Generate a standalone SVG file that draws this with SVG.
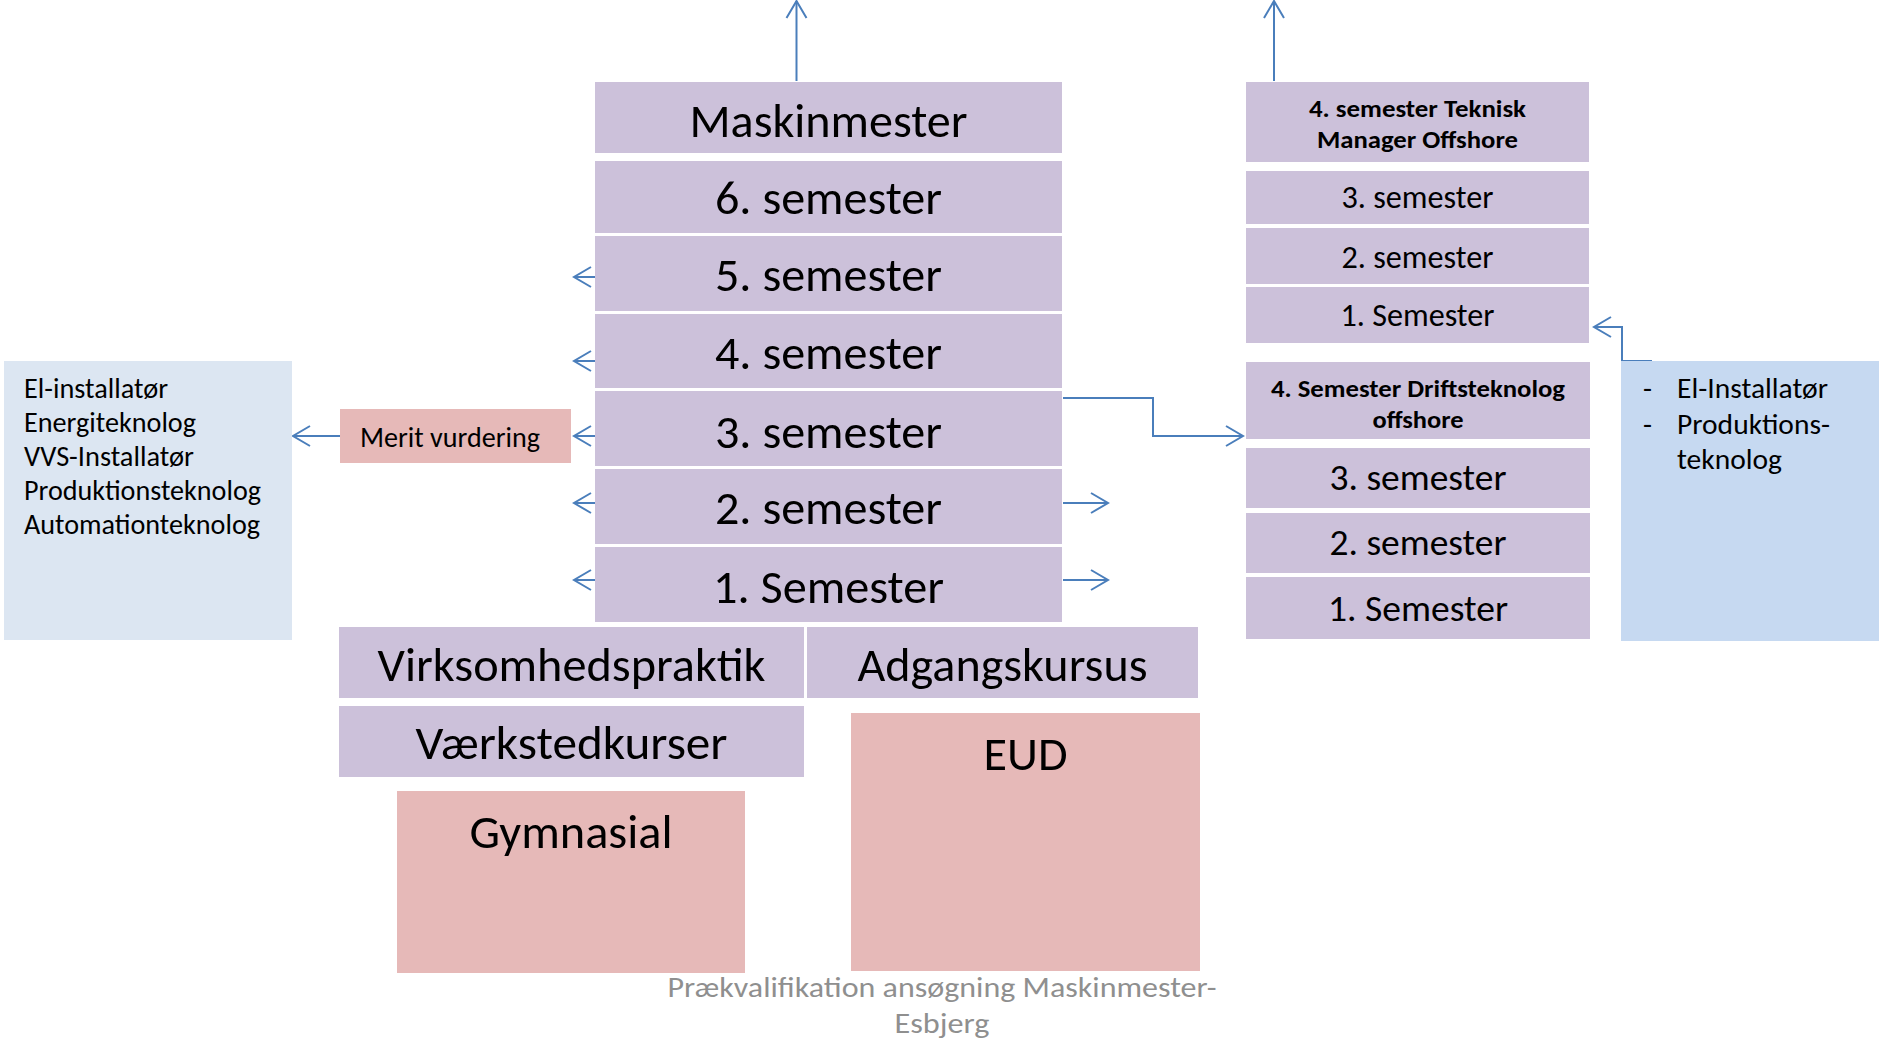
<svg xmlns="http://www.w3.org/2000/svg" width="1879" height="1041" viewBox="0 0 1879 1041">
<defs>
<style>
text{font-family:Carlito,Calibri,"Liberation Sans",Arial,sans-serif;fill:#000}
.lav{fill:#CCC1DA}
.pink{fill:#E6B9B8}
.lb1{fill:#DCE6F2}
.lb2{fill:#C6D9F1}
.t48{font-size:48px;text-anchor:middle}
.t37{font-size:37.3px;text-anchor:middle}
.t32{font-size:32px;text-anchor:middle}
.b24{font-size:24px;font-weight:bold;text-anchor:middle}
.t28{font-size:28px}
.t29{font-size:29.3px}
.foot{font-size:29px;text-anchor:middle;fill:#8F8F8F}
.con{fill:none;stroke:#4A7EBB;stroke-width:2}
</style>
<marker id="arr" markerUnits="userSpaceOnUse" markerWidth="24" markerHeight="24" viewBox="-20 -12 24 24" refX="0" refY="0" orient="auto">
<path d="M-17,-10 L0,0 L-17,10" fill="none" stroke="#4A7EBB" stroke-width="2"/>
</marker>
</defs>

<g id="connectors">
<line class="con" x1="796.5" y1="81" x2="796.5" y2="1" marker-end="url(#arr)"/>
<line class="con" x1="1274" y1="81" x2="1274" y2="1" marker-end="url(#arr)"/>
<line class="con" x1="595" y1="277" x2="574" y2="277" marker-end="url(#arr)"/>
<line class="con" x1="595" y1="361" x2="574" y2="361" marker-end="url(#arr)"/>
<line class="con" x1="595" y1="436" x2="574" y2="436" marker-end="url(#arr)"/>
<line class="con" x1="595" y1="503" x2="574" y2="503" marker-end="url(#arr)"/>
<line class="con" x1="595" y1="580" x2="574" y2="580" marker-end="url(#arr)"/>
<line class="con" x1="340" y1="436" x2="293" y2="436" marker-end="url(#arr)"/>
<line class="con" x1="1063" y1="503" x2="1108" y2="503" marker-end="url(#arr)"/>
<line class="con" x1="1063" y1="580" x2="1108" y2="580" marker-end="url(#arr)"/>
<path class="con" d="M1063,398 H1153 V436 H1243" marker-end="url(#arr)"/>
<path class="con" d="M1652,361 H1622 V327 H1594" marker-end="url(#arr)"/>
</g>

<g id="maskinmester"><rect class="lav" x="595" y="82" width="467" height="71"/><text class="t48" x="828.5" y="136.5" textLength="278" lengthAdjust="spacingAndGlyphs">Maskinmester</text></g>
<g id="m-sem6"><rect class="lav" x="595" y="161" width="467" height="72"/><text class="t48" x="828.5" y="213.5" textLength="227" lengthAdjust="spacingAndGlyphs">6. semester</text></g>
<g id="m-sem5"><rect class="lav" x="595" y="236" width="467" height="75"/><text class="t48" x="828.5" y="290.5" textLength="227" lengthAdjust="spacingAndGlyphs">5. semester</text></g>
<g id="m-sem4"><rect class="lav" x="595" y="314" width="467" height="74"/><text class="t48" x="828.5" y="368.5" textLength="227" lengthAdjust="spacingAndGlyphs">4. semester</text></g>
<g id="m-sem3"><rect class="lav" x="595" y="391" width="467" height="75"/><text class="t48" x="828.5" y="447.5" textLength="227" lengthAdjust="spacingAndGlyphs">3. semester</text></g>
<g id="m-sem2"><rect class="lav" x="595" y="469" width="467" height="75"/><text class="t48" x="828.5" y="523.5" textLength="227" lengthAdjust="spacingAndGlyphs">2. semester</text></g>
<g id="m-sem1"><rect class="lav" x="595" y="547" width="467" height="75"/><text class="t48" x="828.5" y="602.5" textLength="231" lengthAdjust="spacingAndGlyphs">1. Semester</text></g>

<g id="virksomhedspraktik"><rect class="lav" x="339" y="627" width="465" height="71"/><text class="t48" x="571.5" y="681" textLength="388" lengthAdjust="spacingAndGlyphs">Virksomhedspraktik</text></g>
<g id="adgangskursus"><rect class="lav" x="807" y="627" width="391" height="71"/><text class="t48" x="1002.5" y="681" textLength="290" lengthAdjust="spacingAndGlyphs">Adgangskursus</text></g>
<g id="vaerkstedkurser"><rect class="lav" x="339" y="706" width="465" height="71"/><text class="t48" x="571.5" y="759" textLength="312" lengthAdjust="spacingAndGlyphs">Værkstedkurser</text></g>
<g id="gymnasial"><rect class="pink" x="397" y="791" width="348" height="182"/><text class="t48" x="571" y="847.5" textLength="203" lengthAdjust="spacingAndGlyphs">Gymnasial</text></g>
<g id="eud"><rect class="pink" x="851" y="713" width="349" height="258"/><text class="t48" x="1025.5" y="769.5" textLength="84" lengthAdjust="spacingAndGlyphs">EUD</text></g>

<g id="merit"><rect class="pink" x="340" y="409" width="231" height="54"/><text class="t28" x="360" y="447" textLength="180" lengthAdjust="spacingAndGlyphs">Merit vurdering</text></g>

<g id="left-list"><rect class="lb1" x="4" y="361" width="288" height="279"/>
<text class="t28" x="24" y="398" textLength="144" lengthAdjust="spacingAndGlyphs">El-installatør</text>
<text class="t28" x="24" y="432" textLength="172" lengthAdjust="spacingAndGlyphs">Energiteknolog</text>
<text class="t28" x="24" y="466" textLength="170" lengthAdjust="spacingAndGlyphs">VVS-Installatør</text>
<text class="t28" x="24" y="500" textLength="237" lengthAdjust="spacingAndGlyphs">Produktionsteknolog</text>
<text class="t28" x="24" y="534" textLength="236" lengthAdjust="spacingAndGlyphs">Automationteknolog</text>
</g>

<g id="tm-sem4"><rect class="lav" x="1246" y="82" width="343" height="80"/><text class="b24" x="1417.5" y="117" textLength="217" lengthAdjust="spacingAndGlyphs">4. semester Teknisk</text><text class="b24" x="1417.5" y="148" textLength="201" lengthAdjust="spacingAndGlyphs">Manager Offshore</text></g>
<g id="tm-sem3"><rect class="lav" x="1246" y="171" width="343" height="53"/><text class="t32" x="1417.5" y="208" textLength="152" lengthAdjust="spacingAndGlyphs">3. semester</text></g>
<g id="tm-sem2"><rect class="lav" x="1246" y="228" width="343" height="56"/><text class="t32" x="1417.5" y="268" textLength="152" lengthAdjust="spacingAndGlyphs">2. semester</text></g>
<g id="tm-sem1"><rect class="lav" x="1246" y="287" width="343" height="56"/><text class="t32" x="1417.5" y="326" textLength="154" lengthAdjust="spacingAndGlyphs">1. Semester</text></g>

<g id="dt-sem4"><rect class="lav" x="1246" y="362" width="344" height="77"/><text class="b24" x="1418" y="397" textLength="294" lengthAdjust="spacingAndGlyphs">4. Semester Driftsteknolog</text><text class="b24" x="1418" y="428" textLength="91" lengthAdjust="spacingAndGlyphs">offshore</text></g>
<g id="dt-sem3"><rect class="lav" x="1246" y="448" width="344" height="60"/><text class="t37" x="1418" y="490" textLength="177" lengthAdjust="spacingAndGlyphs">3. semester</text></g>
<g id="dt-sem2"><rect class="lav" x="1246" y="513" width="344" height="60"/><text class="t37" x="1418" y="555" textLength="177" lengthAdjust="spacingAndGlyphs">2. semester</text></g>
<g id="dt-sem1"><rect class="lav" x="1246" y="577" width="344" height="62"/><text class="t37" x="1418" y="621" textLength="180" lengthAdjust="spacingAndGlyphs">1. Semester</text></g>

<g id="right-list"><rect class="lb2" x="1621" y="361" width="258" height="280"/>
<text class="t29" x="1643" y="398">-</text>
<text class="t29" x="1643" y="434">-</text>
<text class="t29" x="1677" y="398" textLength="151" lengthAdjust="spacingAndGlyphs">El-Installatør</text>
<text class="t29" x="1677" y="434" textLength="153" lengthAdjust="spacingAndGlyphs">Produktions-</text>
<text class="t29" x="1677" y="469" textLength="105" lengthAdjust="spacingAndGlyphs">teknolog</text>
</g>

<g id="footer">
<text class="foot" x="942" y="997" textLength="549" lengthAdjust="spacingAndGlyphs">Prækvalifikation ansøgning Maskinmester-</text>
<text class="foot" x="942" y="1033" textLength="95" lengthAdjust="spacingAndGlyphs">Esbjerg</text>
</g>
</svg>
